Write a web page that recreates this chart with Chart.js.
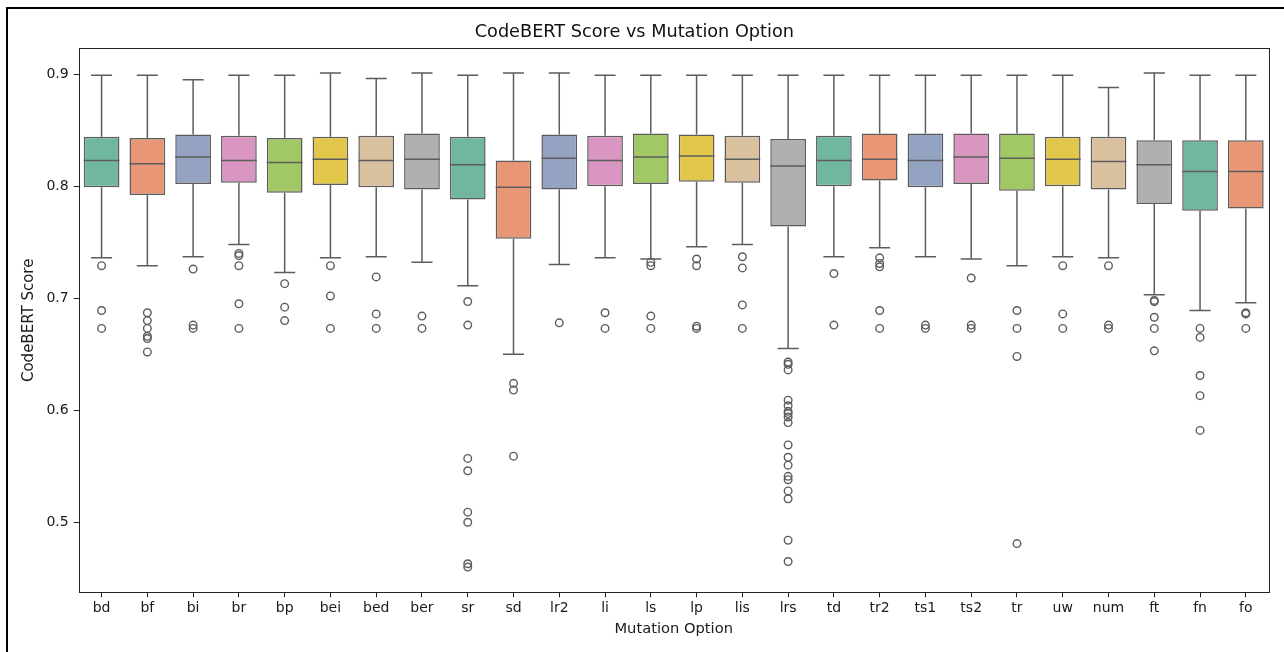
<!DOCTYPE html>
<html>
<head>
<meta charset="utf-8">
<script src="https://cdn.jsdelivr.net/npm/chart.js@4.4.1/dist/chart.umd.min.js"></script>
<style>
  html, body { margin: 0; padding: 0; background: #fff; }
  #wrap { width: 1284px; height: 652px; position: relative; }
</style>
</head>
<body>
<div id="wrap"><canvas id="boxChart"></canvas></div>
<script>
/* ===============================
   DATA
================================ */
const labels = ['bd', 'bf', 'bi', 'br', 'bp', 'bei', 'bed', 'ber', 'sr', 'sd', 'lr2', 'li', 'ls',
  'lp', 'lis', 'lrs', 'td', 'tr2', 'ts1', 'ts2', 'tr', 'uw', 'num', 'ft', 'fn', 'fo'];

const whiskerHigh = [0.899, 0.899, 0.895, 0.899, 0.899, 0.901, 0.896, 0.901, 0.899, 0.901, 0.901, 0.899, 0.899,
  0.899, 0.899, 0.899, 0.899, 0.899, 0.899, 0.899, 0.899, 0.899, 0.888, 0.901, 0.899, 0.899];
const q3 = [0.844, 0.843, 0.846, 0.845, 0.843, 0.844, 0.845, 0.847, 0.844, 0.823, 0.846, 0.845, 0.847,
  0.846, 0.845, 0.842, 0.845, 0.847, 0.847, 0.847, 0.847, 0.844, 0.844, 0.841, 0.841, 0.841];
const medians = [0.823, 0.820, 0.826, 0.823, 0.821, 0.824, 0.823, 0.824, 0.819, 0.799, 0.825, 0.823, 0.826,
  0.827, 0.824, 0.818, 0.823, 0.824, 0.823, 0.826, 0.825, 0.824, 0.822, 0.819, 0.813, 0.813];
const q1 = [0.799, 0.792, 0.802, 0.803, 0.794, 0.801, 0.799, 0.797, 0.788, 0.753, 0.797, 0.800, 0.802,
  0.804, 0.803, 0.764, 0.800, 0.805, 0.799, 0.802, 0.796, 0.800, 0.797, 0.784, 0.778, 0.780];
const whiskerLow = [0.736, 0.729, 0.737, 0.748, 0.723, 0.736, 0.737, 0.732, 0.711, 0.650, 0.730, 0.736, 0.735,
  0.746, 0.748, 0.655, 0.737, 0.745, 0.737, 0.735, 0.729, 0.737, 0.736, 0.703, 0.689, 0.696];

const outliers = [
  [0.729, 0.689, 0.673],
  [0.687, 0.680, 0.673, 0.666, 0.664, 0.652],
  [0.726, 0.676, 0.673],
  [0.740, 0.738, 0.729, 0.695, 0.673],
  [0.713, 0.692, 0.680],
  [0.729, 0.702, 0.673],
  [0.719, 0.686, 0.673],
  [0.684, 0.673],
  [0.697, 0.676, 0.557, 0.546, 0.509, 0.500, 0.463, 0.460],
  [0.624, 0.618, 0.559],
  [0.678],
  [0.687, 0.673],
  [0.732, 0.729, 0.684, 0.673],
  [0.735, 0.729, 0.675, 0.673],
  [0.737, 0.727, 0.694, 0.673],
  [0.643, 0.641, 0.636, 0.609, 0.604, 0.599, 0.597, 0.594, 0.589, 0.569, 0.558, 0.551, 0.541, 0.538,
    0.528, 0.521, 0.484, 0.465],
  [0.722, 0.676],
  [0.736, 0.731, 0.728, 0.689, 0.673],
  [0.676, 0.673],
  [0.718, 0.676, 0.673],
  [0.689, 0.673, 0.648, 0.481],
  [0.729, 0.686, 0.673],
  [0.729, 0.676, 0.673],
  [0.698, 0.697, 0.683, 0.673, 0.653],
  [0.673, 0.665, 0.631, 0.613, 0.582],
  [0.687, 0.686, 0.673],
];

// Set2, desaturated like seaborn does
const palette = ['#71b6a1', '#e89675', '#95a3c3', '#d996c0', '#a2c765', '#e3c74b', '#d9c19f', '#b0b0b0'];
const LINE = '#5c5c5c';
const AXIS = '#222222';

/* ===============================
   HELPERS
================================ */
const boxes = labels.map((_, i) => [q1[i], q3[i]]);
const boxColors = labels.map((_, i) => palette[i % palette.length]);
const outlierPoints = [];
outliers.forEach((list, i) => {
  list.forEach((v) => outlierPoints.push({ x: labels[i], y: v }));
});

// whiskers, caps and medians use the chart's own scales
const boxLines = {
  id: 'boxLines',
  beforeDatasetsDraw(chart) {
    const { ctx } = chart;
    const x = chart.scales.x;
    const y = chart.scales.y;
    const band = x.getPixelForValue(1) - x.getPixelForValue(0);
    const capHalf = band * 0.23;
    ctx.save();
    ctx.strokeStyle = LINE;
    ctx.lineWidth = 1.5;
    labels.forEach((_, i) => {
      const cx = x.getPixelForValue(i);
      ctx.beginPath();
      ctx.moveTo(cx, y.getPixelForValue(whiskerLow[i]));
      ctx.lineTo(cx, y.getPixelForValue(q1[i]));
      ctx.moveTo(cx, y.getPixelForValue(q3[i]));
      ctx.lineTo(cx, y.getPixelForValue(whiskerHigh[i]));
      ctx.moveTo(cx - capHalf, y.getPixelForValue(whiskerLow[i]));
      ctx.lineTo(cx + capHalf, y.getPixelForValue(whiskerLow[i]));
      ctx.moveTo(cx - capHalf, y.getPixelForValue(whiskerHigh[i]));
      ctx.lineTo(cx + capHalf, y.getPixelForValue(whiskerHigh[i]));
      ctx.stroke();
    });
    ctx.restore();
  },
  afterDatasetDraw(chart, args) {
    if (args.index !== 0) return;
    const { ctx } = chart;
    const y = chart.scales.y;
    const bars = chart.getDatasetMeta(0).data;
    ctx.save();
    ctx.strokeStyle = LINE;
    ctx.lineWidth = 1.5;
    bars.forEach((bar, i) => {
      const py = y.getPixelForValue(medians[i]);
      ctx.beginPath();
      ctx.moveTo(bar.x - bar.width / 2, py);
      ctx.lineTo(bar.x + bar.width / 2, py);
      ctx.stroke();
    });
    ctx.restore();
  },
  afterDraw(chart) {
    const { ctx, chartArea: a } = chart;
    ctx.save();
    // axes frame
    ctx.strokeStyle = AXIS;
    ctx.lineWidth = 1;
    ctx.strokeRect(Math.round(a.left) + 0.5, Math.round(a.top) + 0.5,
      Math.round(a.right - a.left), Math.round(a.bottom - a.top));
    // outer figure border (left and top)
    ctx.strokeStyle = '#000';
    ctx.lineWidth = 2;
    ctx.beginPath();
    ctx.moveTo(7, 652);
    ctx.lineTo(7, 8);
    ctx.lineTo(1284, 8);
    ctx.stroke();
    ctx.restore();
  },
};

/* ===============================
   CHART
================================ */
Chart.defaults.font.family = "'DejaVu Sans', sans-serif";
Chart.defaults.color = '#1a1a1a';

new Chart(document.getElementById('boxChart'), {
  type: 'bar',
  data: {
    labels: labels,
    datasets: [
      {
        label: 'IQR',
        data: boxes,
        backgroundColor: boxColors,
        borderColor: LINE,
        borderWidth: 1.5,
        borderSkipped: false,
        grouped: false,
        barPercentage: 0.78,
        categoryPercentage: 1,
        order: 2,
      },
      {
        type: 'line',
        label: 'Outliers',
        data: outlierPoints,
        showLine: false,
        pointStyle: 'circle',
        pointRadius: 3.8,
        pointBorderWidth: 1.4,
        pointBorderColor: LINE,
        pointBackgroundColor: 'rgba(0,0,0,0)',
        order: 1,
      },
    ],
  },
  options: {
    responsive: true,
    maintainAspectRatio: false,
    animation: false,
    layout: { padding: { top: 8, left: 0, right: 15.3, bottom: 0 } },
    plugins: {
      legend: { display: false },
      tooltip: { enabled: false },
      title: {
        display: true,
        text: 'CodeBERT Score vs Mutation Option',
        color: '#111',
        font: { size: 17.7, weight: 'normal' },
        padding: { top: 14, bottom: 5.1 },
      },
    },
    scales: {
      x: {
        offset: true,
        grid: { display: true, drawOnChartArea: false, drawTicks: true, tickLength: 5, offset: false, color: AXIS },
        border: { display: false },
        ticks: { padding: 3, font: { size: 14 }, color: '#1a1a1a', maxRotation: 0, autoSkip: false },
        title: { display: true, text: 'Mutation Option', font: { size: 14.7 }, color: '#1a1a1a', padding: { top: 0, bottom: 14.2 } },
        afterFit: (scale) => { scale.height = 59.7; },
      },
      y: {
        min: 0.4375,
        max: 0.923,
        grid: { display: true, drawOnChartArea: false, drawTicks: true, tickLength: 5, color: AXIS },
        border: { display: false },
        ticks: {
          stepSize: 0.1,
          includeBounds: false,
          padding: 5,
          font: { size: 14 },
          color: '#1a1a1a',
          callback: (v) => v.toFixed(1),
        },
        title: { display: true, text: 'CodeBERT Score', font: { size: 15 }, color: '#1a1a1a', padding: { top: 20.5, bottom: 0 } },
        afterFit: (scale) => { scale.width = 78.7; },
      },
    },
  },
  plugins: [boxLines],
});
</script>
</body>
</html>
